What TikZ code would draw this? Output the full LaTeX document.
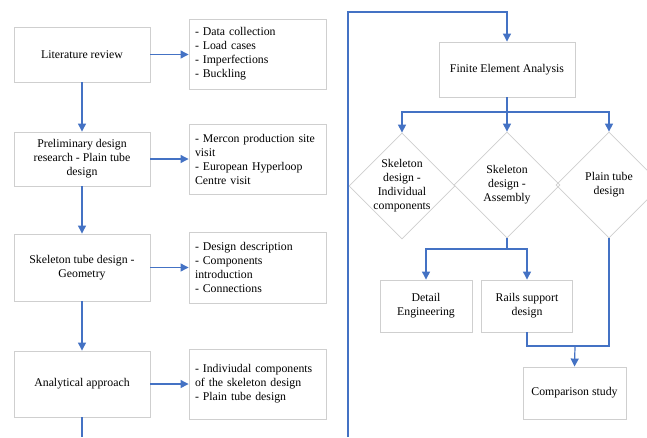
\documentclass[tikz,border=0pt]{standalone}
\usepackage{fontspec}
\setmainfont{Liberation Serif}
\usetikzlibrary{arrows.meta,shapes.geometric}
\definecolor{boxgray}{HTML}{CFCFCF}
\definecolor{arrblue}{HTML}{4472C4}
\tikzset{
  txt/.style={font=\fontsize{11.8}{14}\selectfont},
  box/.style={txt,draw=boxgray,line width=0.9pt,rectangle,inner sep=2pt,align=center},
  sidebox/.style={txt,draw=boxgray,line width=0.9pt,rectangle,inner xsep=6pt,inner ysep=0pt,align=left},
  dia/.style={draw=boxgray,line width=0.8pt,diamond,minimum width=106pt,minimum height=106pt,inner sep=0pt},
  dtext/.style={txt,align=center,inner sep=0pt},
  arr/.style={draw=arrblue,line width=1.2pt,-{Triangle[length=8pt,width=8pt]}},
  ln/.style={draw=arrblue,line width=1.2pt}
}
\begin{document}
\begin{tikzpicture}[x=1pt,y=-1pt]
\useasboundingbox[fill=white] (0,0) rectangle (647,437);
% left column
\node[box,minimum width=136pt,minimum height=55pt] (lit) at (82,54.5) {Literature review};
\node[box,minimum width=136pt,minimum height=54pt] (pre) at (82,159) {Preliminary design\\research - Plain tube\\design};
\node[box,minimum width=136pt,minimum height=67pt] (skel) at (82,267.5) {Skeleton tube design -\\Geometry};
\node[box,minimum width=136pt,minimum height=66pt] (ana) at (82,384) {Analytical approach};
% side boxes
\node[sidebox,text width=125pt,minimum height=70pt] (s1) at (257.5,54) {- Data collection\\- Load cases\\- Imperfections\\- Buckling};
\node[sidebox,text width=125pt,minimum height=70pt] (s2) at (257.5,159) {- Mercon production site\\visit\\- European Hyperloop\\Centre visit};
\node[sidebox,text width=125pt,minimum height=71pt] (s3) at (257.5,267.5) {- Design description\\- Components\\introduction\\- Connections};
\node[sidebox,text width=125pt,minimum height=70pt] (s4) at (257.5,384) {- Indiviudal components\\of the skeleton design\\- Plain tube design};
% right part
\node[box,minimum width=136pt,minimum height=55pt] (fea) at (507,69.5) {Finite Element Analysis};
\node[dia] (d1) at (402,186) {};
\node[dia] (d2) at (507,185) {};
\node[dia] (d3) at (609,185) {};
\node[dtext] (t1) at (d1) {Skeleton\\design -\\Individual\\components};
\node[dtext] (t2) at (d2) {Skeleton\\design -\\Assembly};
\node[dtext] (t3) at (d3) {Plain tube\\design};
\node[box,minimum width=92pt,minimum height=52pt] (det) at (426,306) {Detail\\Engineering};
\node[box,minimum width=91pt,minimum height=52pt] (rails) at (527,306) {Rails support\\design};
\node[box,minimum width=103pt,minimum height=52pt] (comp) at (574.5,393) {Comparison study};
% coordinates
\coordinate (lend) at (82,437);
\coordinate (rstart) at (348,437);
\coordinate (rtop) at (348,12);
\coordinate (fsplit) at (507,112);
\coordinate (asplit) at (507,249);
\coordinate (cjoin) at (575,346);
% connectors left
\draw[arr] (lit.south) -- (pre.north);
\draw[arr] (pre.south) -- (skel.north);
\draw[arr] (skel.south) -- (ana.north);
\draw[ln] (ana.south) -- (lend);
\draw[arr] (lit.east) -- (lit.east -| s1.west);
\draw[arr] (pre.east) -- (pre.east -| s2.west);
\draw[arr] (skel.east) -- (skel.east -| s3.west);
\draw[arr] (ana.east) -- (ana.east -| s4.west);
% connectors right
\draw[arr] (rstart) -- (rtop) -| (fea.north);
\draw[ln] (fea.south) -- (fsplit);
\draw[arr] (fsplit) -| (d1.north);
\draw[arr] (fsplit) -- (d2.north);
\draw[arr] (fsplit) -| (d3.north);
\draw[ln] (d2.south) -- (asplit);
\draw[arr] (asplit) -| (det.north);
\draw[arr] (asplit) -| (rails.north);
\draw[ln] (rails.south) |- (cjoin);
\draw[ln] (d3.south) |- (cjoin);
\draw[arr] (cjoin) -- (comp.north);
\end{tikzpicture}
\end{document}
